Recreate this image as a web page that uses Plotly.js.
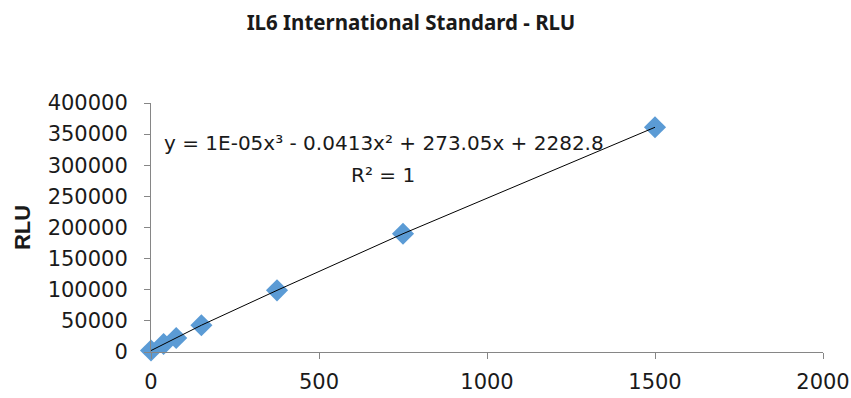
<!DOCTYPE html>
<html>
<head>
<meta charset="utf-8">
<script src="https://cdn.plot.ly/plotly-3.0.1.min.js"></script>
<style>html,body{margin:0;padding:0;background:#fff;}#chart{width:851px;height:398px;}</style>
</head>
<body>
<div id="chart"></div>
<script>
const concentrations = [0, 37.5, 75, 150, 375, 750, 1500];
const rlu = [2300, 12800, 22500, 43000, 99000, 190000, 361000];
const titleText = 'IL6 International Standard - RLU';
const yTitle = 'RLU';
const equationText = 'y = 1E-05x³ - 0.0413x² + 273.05x + 2282.8';
const r2Text = 'R² = 1';
const xTicks = [0, 500, 1000, 1500, 2000];
const yTicks = [0, 50000, 100000, 150000, 200000, 250000, 300000, 350000, 400000];

const axisColor = '#868686';
const tickFont = {family: 'DejaVu Sans, sans-serif', size: 21, color: '#1a1a1a'};

const data = [
  {x: concentrations, y: rlu, type: 'scatter', mode: 'markers', cliponaxis: false,
   marker: {symbol: 'diamond', size: 17, color: '#5B9BD5', line: {width: 0}},
   hoverinfo: 'x+y', showlegend: false},
  {x: concentrations, y: rlu, type: 'scatter', mode: 'lines', cliponaxis: false,
   line: {color: '#000', width: 1}, hoverinfo: 'skip', showlegend: false}
];

const layout = {
  width: 851, height: 398,
  paper_bgcolor: '#fff', plot_bgcolor: '#fff',
  margin: {l: 151, r: 28, t: 103, b: 46},
  title: {text: '<b>' + titleText + '</b>', x: 411/851, xanchor: 'center', y: 1 - 23/398, yanchor: 'middle',
          font: {family: 'Noto Sans, sans-serif', size: 20.5, color: '#1a1a1a'}},
  xaxis: {range: [0, 2000], tickvals: xTicks, ticktext: xTicks.map(String),
          showgrid: false, zeroline: false, showline: true, linecolor: axisColor, linewidth: 1,
          ticks: 'outside', ticklen: 6, tickcolor: axisColor, tickfont: tickFont, ticklabelstandoff: 5,
          fixedrange: true},
  yaxis: {range: [0, 400000], tickvals: yTicks, ticktext: yTicks.map(String),
          showgrid: false, zeroline: false, showline: true, linecolor: axisColor, linewidth: 1,
          ticks: 'outside', ticklen: 6, tickcolor: axisColor, tickfont: tickFont, ticklabelstandoff: 12,
          fixedrange: true,
          title: {text: '<b>' + yTitle + '</b>', standoff: 10,
                  font: {family: 'Liberation Sans, Arial, sans-serif', size: 22, color: '#1a1a1a'}}},
  annotations: [
    {xref: 'paper', yref: 'paper', x: (384-151)/672, y: (352-143)/249, xanchor: 'center', yanchor: 'middle',
     text: equationText, showarrow: false, font: {family: 'DejaVu Sans, sans-serif', size: 20, color: '#1a1a1a'}},
    {xref: 'paper', yref: 'paper', x: (383-151)/672, y: (352-175)/249, xanchor: 'center', yanchor: 'middle',
     text: r2Text, showarrow: false, font: {family: 'DejaVu Sans, sans-serif', size: 20, color: '#1a1a1a'}}
  ]
};

Plotly.newPlot('chart', data, layout, {displayModeBar: false, staticPlot: true});
</script>
</body>
</html>
